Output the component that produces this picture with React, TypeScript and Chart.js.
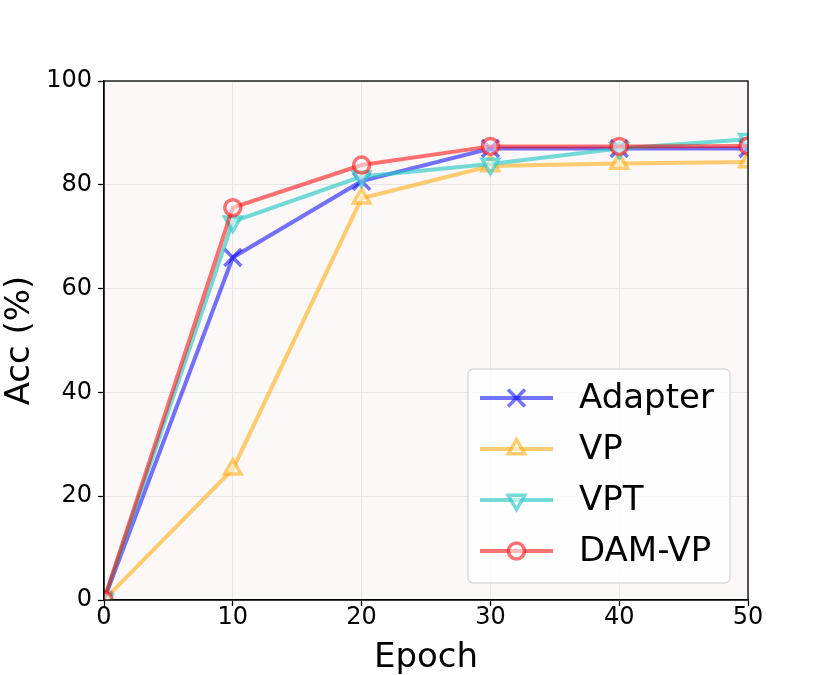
import React, { useEffect, useRef } from "react";
import { Chart, registerables } from "chart.js";
import { drawPoint } from "chart.js/helpers";

Chart.register(...registerables);

const epochs = [0, 10, 20, 30, 40, 50];
const adapterAcc = [0, 66.0, 80.7, 87.0, 87.0, 87.0];
const vpAcc = [0, 25.2, 77.4, 83.6, 84.1, 84.4];
const vptAcc = [0, 72.9, 81.6, 84.0, 87.0, 88.8];
const damvpAcc = [0, 75.6, 83.8, 87.4, 87.4, 87.5];
const seriesNames = ["Adapter", "VP", "VPT", "DAM-VP"];
const xTicks = [0, 10, 20, 30, 40, 50];
const yTicks = [0, 20, 40, 60, 80, 100];

const FONT = "'DejaVu Sans', sans-serif";

const styles = [
  { color: "rgba(0,0,255,0.55)", pointStyle: "crossRot", radius: 12, rotation: 0, fill: "rgba(0,0,0,0)" },
  { color: "rgba(255,165,0,0.55)", pointStyle: "triangle", radius: 9.5, rotation: 0, fill: "rgba(255,255,255,0.5)" },
  { color: "rgba(40,200,195,0.65)", pointStyle: "triangle", radius: 9.5, rotation: 180, fill: "rgba(255,255,255,0.5)" },
  { color: "rgba(255,0,0,0.55)", pointStyle: "circle", radius: 8, rotation: 0, fill: "rgba(255,255,255,0.5)" },
];

const bgPlugin = {
  id: "plotBg",
  beforeDraw(chart: any) {
    const { ctx, chartArea: a } = chart;
    ctx.save();
    ctx.fillStyle = "#fdf8f8";
    ctx.fillRect(a.left, a.top, a.right - a.left, a.bottom - a.top);
    ctx.restore();
  },
};

const framePlugin = {
  id: "frameLegend",
  afterDatasetsDraw(chart: any) {
    const { ctx, chartArea: a } = chart;
    ctx.save();
    ctx.strokeStyle = "#000";
    ctx.lineWidth = 1.3;
    ctx.strokeRect(a.left, a.top, a.right - a.left, a.bottom - a.top);

    // legend box (lower right inside plot)
    const bw = 262;
    const bh = 214;
    const bx = a.right - 18 - bw;
    const by = a.bottom - 17 - bh;
    ctx.beginPath();
    ctx.roundRect(bx, by, bw, bh, 5);
    ctx.fillStyle = "rgba(255,255,255,0.8)";
    ctx.fill();
    ctx.strokeStyle = "#cccccc";
    ctx.lineWidth = 1;
    ctx.stroke();

    chart.data.datasets.forEach((ds: any, i: number) => {
      const st = styles[i];
      const cy = by + 29 + i * 51;
      const x0 = bx + 12;
      const x1 = bx + 85;
      ctx.beginPath();
      ctx.strokeStyle = st.color;
      ctx.lineWidth = 4;
      ctx.moveTo(x0, cy);
      ctx.lineTo(x1, cy);
      ctx.stroke();
      ctx.fillStyle = st.fill;
      ctx.strokeStyle = st.color;
      ctx.lineWidth = 3.5;
      drawPoint(ctx, { pointStyle: st.pointStyle, radius: st.radius, rotation: st.rotation, borderWidth: 3.5 } as any, (x0 + x1) / 2, cy);
      ctx.fillStyle = "#000";
      ctx.font = `34px ${FONT}`;
      ctx.textBaseline = "middle";
      ctx.textAlign = "left";
      ctx.fillText(ds.label, bx + 111, cy + 1);
    });
    ctx.restore();
  },
};

export default function App() {
  const ref = useRef<HTMLCanvasElement>(null);
  useEffect(() => {
    document.body.style.margin = "0";
    const allSeries = [adapterAcc, vpAcc, vptAcc, damvpAcc];
    const chart = new Chart(ref.current!, {
      type: "line",
      data: {
        datasets: allSeries.map((vals, i) => ({
          label: seriesNames[i],
          data: epochs.map((e, j) => ({ x: e, y: vals[j] })),
          borderColor: styles[i].color,
          backgroundColor: styles[i].fill,
          pointBackgroundColor: styles[i].fill,
          pointBorderColor: styles[i].color,
          pointStyle: styles[i].pointStyle as any,
          pointRadius: styles[i].radius,
          pointRotation: styles[i].rotation,
          pointBorderWidth: 3.5,
          borderWidth: 4,
          tension: 0,
          clip: 0,
          order: 4 - i,
        })),
      },
      options: {
        responsive: false,
        animation: false,
        devicePixelRatio: 1,
        layout: { padding: { left: 0, top: 81, right: 82, bottom: 0 } },
        plugins: {
          legend: { display: false },
          tooltip: { enabled: false },
        },
        scales: {
          x: {
            type: "linear",
            min: 0,
            max: 50,
            afterFit(scale: any) {
              scale.height = 75;
            },
            afterBuildTicks(scale: any) {
              scale.ticks = xTicks.map((v) => ({ value: v }));
            },
            ticks: {
              color: "#000",
              font: { family: FONT, size: 24, lineHeight: 1 },
              padding: 0,
              maxRotation: 0,
            },
            grid: { color: "#e6e6e6", lineWidth: 1, tickColor: "#000", tickLength: 6, tickWidth: 1.3 },
            border: { display: true, color: "#000", width: 1.3 },
            title: {
              display: true,
              text: "Epoch",
              color: "#000",
              font: { family: FONT, size: 34, lineHeight: 1 },
              padding: 0,
            },
          },
          y: {
            type: "linear",
            min: 0,
            max: 100,
            afterFit(scale: any) {
              scale.width = 104;
            },
            afterBuildTicks(scale: any) {
              scale.ticks = yTicks.map((v) => ({ value: v }));
            },
            ticks: {
              color: "#000",
              font: { family: FONT, size: 24, lineHeight: 1 },
              padding: 6,
            },
            grid: { color: "#e6e6e6", lineWidth: 1, tickColor: "#000", tickLength: 6, tickWidth: 1.3 },
            border: { display: true, color: "#000", width: 1.3 },
            title: {
              display: true,
              text: "Acc (%)",
              color: "#000",
              font: { family: FONT, size: 34, lineHeight: 1.2 },
              padding: 0,
            },
          },
        },
      },
      plugins: [bgPlugin, framePlugin],
    });
    return () => chart.destroy();
  }, []);
  return (
    <div style={{ width: 830, height: 675, background: "#fff" }}>
      <canvas ref={ref} width={830} height={675} />
    </div>
  );
}
